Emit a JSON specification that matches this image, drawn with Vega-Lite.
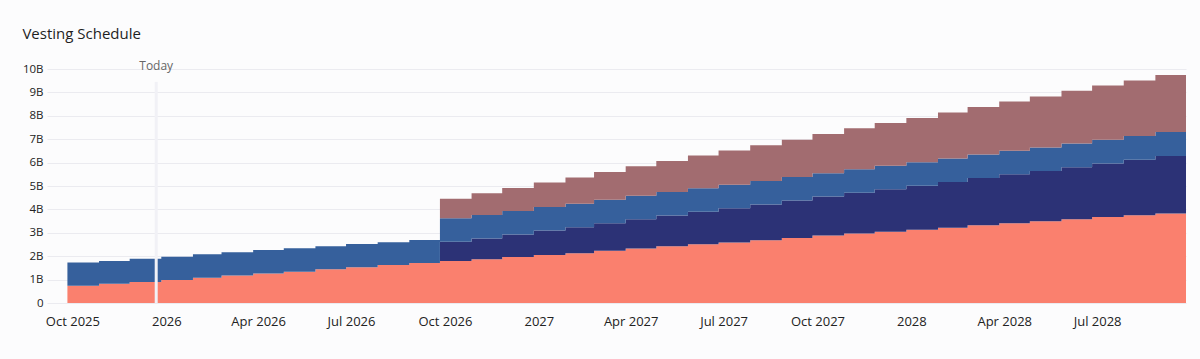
{
  "$schema": "https://vega.github.io/schema/vega-lite/v6.json",
  "width": 1139,
  "height": 234,
  "autosize": {"type": "none"},
  "padding": {"left": 47, "top": 69, "right": 14, "bottom": 56},
  "background": "#fcfcfd",
  "title": {
    "text": "Vesting Schedule",
    "anchor": "start",
    "dx": 0,
    "offset": 18,
    "font": "Open Sans",
    "fontSize": 15,
    "fontWeight": 500,
    "color": "#1f1f1f"
  },
  "config": {
    "view": {"stroke": null},
    "axis": {"labelFont": "Open Sans", "labelColor": "#222222"},
    "axisY": {
      "title": null,
      "tickCount": 12,
      "grid": true,
      "gridColor": "#ebebf0",
      "ticks": false,
      "domain": false,
      "labelPadding": 4,
      "labelFontSize": 11.5,
      "labelOverlap": false
    }
  },
  "layer": [
    {
      "data": {
        "values": [
          {"date": "2025-10-01", "Community": 0.74, "Ecosystem": 0, "Foundation": 0.99, "Investors": 0},
          {"date": "2025-11-01", "Community": 0.82, "Ecosystem": 0, "Foundation": 0.98, "Investors": 0},
          {"date": "2025-12-01", "Community": 0.90, "Ecosystem": 0, "Foundation": 0.99, "Investors": 0},
          {"date": "2026-01-01", "Community": 0.98, "Ecosystem": 0, "Foundation": 1.00, "Investors": 0},
          {"date": "2026-02-01", "Community": 1.08, "Ecosystem": 0, "Foundation": 1.00, "Investors": 0},
          {"date": "2026-03-01", "Community": 1.17, "Ecosystem": 0, "Foundation": 1.00, "Investors": 0},
          {"date": "2026-04-01", "Community": 1.26, "Ecosystem": 0, "Foundation": 1.00, "Investors": 0},
          {"date": "2026-05-01", "Community": 1.34, "Ecosystem": 0, "Foundation": 1.00, "Investors": 0},
          {"date": "2026-06-01", "Community": 1.44, "Ecosystem": 0, "Foundation": 0.99, "Investors": 0},
          {"date": "2026-07-01", "Community": 1.53, "Ecosystem": 0, "Foundation": 0.99, "Investors": 0},
          {"date": "2026-08-01", "Community": 1.62, "Ecosystem": 0, "Foundation": 0.98, "Investors": 0},
          {"date": "2026-09-01", "Community": 1.71, "Ecosystem": 0, "Foundation": 0.98, "Investors": 0},
          {"date": "2026-10-01", "Community": 1.79, "Ecosystem": 0.83, "Foundation": 1.00, "Investors": 0.84},
          {"date": "2026-11-01", "Community": 1.87, "Ecosystem": 0.89, "Foundation": 1.00, "Investors": 0.93},
          {"date": "2026-12-01", "Community": 1.97, "Ecosystem": 0.96, "Foundation": 1.00, "Investors": 0.98},
          {"date": "2027-01-01", "Community": 2.05, "Ecosystem": 1.05, "Foundation": 1.00, "Investors": 1.05},
          {"date": "2027-02-01", "Community": 2.13, "Ecosystem": 1.11, "Foundation": 1.00, "Investors": 1.12},
          {"date": "2027-03-01", "Community": 2.23, "Ecosystem": 1.18, "Foundation": 1.00, "Investors": 1.19},
          {"date": "2027-04-01", "Community": 2.33, "Ecosystem": 1.25, "Foundation": 1.00, "Investors": 1.26},
          {"date": "2027-05-01", "Community": 2.42, "Ecosystem": 1.32, "Foundation": 1.00, "Investors": 1.33},
          {"date": "2027-06-01", "Community": 2.51, "Ecosystem": 1.39, "Foundation": 1.00, "Investors": 1.40},
          {"date": "2027-07-01", "Community": 2.59, "Ecosystem": 1.46, "Foundation": 1.00, "Investors": 1.47},
          {"date": "2027-08-01", "Community": 2.68, "Ecosystem": 1.53, "Foundation": 1.00, "Investors": 1.53},
          {"date": "2027-09-01", "Community": 2.78, "Ecosystem": 1.60, "Foundation": 1.00, "Investors": 1.60},
          {"date": "2027-10-01", "Community": 2.88, "Ecosystem": 1.67, "Foundation": 1.00, "Investors": 1.67},
          {"date": "2027-11-01", "Community": 2.97, "Ecosystem": 1.74, "Foundation": 1.01, "Investors": 1.75},
          {"date": "2027-12-01", "Community": 3.05, "Ecosystem": 1.81, "Foundation": 1.01, "Investors": 1.82},
          {"date": "2028-01-01", "Community": 3.13, "Ecosystem": 1.88, "Foundation": 1.01, "Investors": 1.89},
          {"date": "2028-02-01", "Community": 3.22, "Ecosystem": 1.95, "Foundation": 1.01, "Investors": 1.96},
          {"date": "2028-03-01", "Community": 3.32, "Ecosystem": 2.02, "Foundation": 1.01, "Investors": 2.03},
          {"date": "2028-04-01", "Community": 3.41, "Ecosystem": 2.09, "Foundation": 1.01, "Investors": 2.10},
          {"date": "2028-05-01", "Community": 3.49, "Ecosystem": 2.15, "Foundation": 1.01, "Investors": 2.18},
          {"date": "2028-06-01", "Community": 3.58, "Ecosystem": 2.22, "Foundation": 1.02, "Investors": 2.25},
          {"date": "2028-07-01", "Community": 3.67, "Ecosystem": 2.29, "Foundation": 1.02, "Investors": 2.31},
          {"date": "2028-08-01", "Community": 3.75, "Ecosystem": 2.37, "Foundation": 1.02, "Investors": 2.37},
          {"date": "2028-09-01", "Community": 3.83, "Ecosystem": 2.45, "Foundation": 1.03, "Investors": 2.43},
          {"date": "2028-10-01", "Community": 3.83, "Ecosystem": 2.45, "Foundation": 1.03, "Investors": 2.43}
        ]
      },
      "transform": [
        {"fold": ["Community", "Ecosystem", "Foundation", "Investors"], "as": ["series", "amount"]}
      ],
      "mark": {"type": "area", "interpolate": "step-after"},
      "encoding": {
        "x": {
          "field": "date",
          "type": "temporal",
          "scale": {"domain": [{"year": 2025, "month": 9, "date": 11}, {"year": 2028, "month": 10, "date": 1}]},
          "axis": {
            "title": null,
            "grid": false,
            "ticks": false,
            "domain": false,
            "labelPadding": 12,
            "labelOffset": 5,
            "labelFontSize": 13,
            "labelOverlap": false,
            "labelFlush": false,
            "tickCount": 20,
            "values": [
              {"year": 2025, "month": 10, "date": 1},
              {"year": 2026, "month": 1, "date": 1},
              {"year": 2026, "month": 4, "date": 1},
              {"year": 2026, "month": 7, "date": 1},
              {"year": 2026, "month": 10, "date": 1},
              {"year": 2027, "month": 1, "date": 1},
              {"year": 2027, "month": 4, "date": 1},
              {"year": 2027, "month": 7, "date": 1},
              {"year": 2027, "month": 10, "date": 1},
              {"year": 2028, "month": 1, "date": 1},
              {"year": 2028, "month": 4, "date": 1},
              {"year": 2028, "month": 7, "date": 1}
            ],
            "labelExpr": "month(datum.value) == 0 ? timeFormat(datum.value, '%Y') : timeFormat(datum.value, '%b %Y')"
          }
        },
        "y": {
          "field": "amount",
          "type": "quantitative",
          "stack": "zero",
          "scale": {"domain": [0, 10], "nice": false},
          "axis": {
            "tickCount": 12,
            "values": [0, 1, 2, 3, 4, 5, 6, 7, 8, 9, 10],
            "labelExpr": "datum.value == 0 ? '0' : datum.value + 'B'"
          }
        },
        "color": {
          "field": "series",
          "type": "nominal",
          "scale": {
            "domain": ["Community", "Ecosystem", "Foundation", "Investors"],
            "range": ["#fa806e", "#2c3276", "#36609c", "#a26c70"]
          },
          "legend": null
        },
        "order": {"field": "series", "type": "nominal", "sort": "ascending"}
      }
    },
    {
      "data": {"values": [{"date": "2025-12-27", "label": "Today"}]},
      "mark": {"type": "rule", "color": "#f1f1f6", "strokeWidth": 3},
      "encoding": {
        "x": {"field": "date", "type": "temporal"},
        "y": {"datum": 0},
        "y2": {"datum": 9.45}
      }
    },
    {
      "data": {"values": [{"date": "2025-12-27", "label": "Today"}]},
      "mark": {"type": "text", "font": "Open Sans", "fontSize": 12, "color": "#666666", "baseline": "middle", "dy": -3.5},
      "encoding": {
        "x": {"field": "date", "type": "temporal"},
        "y": {"datum": 10},
        "text": {"field": "label"}
      }
    }
  ]
}
